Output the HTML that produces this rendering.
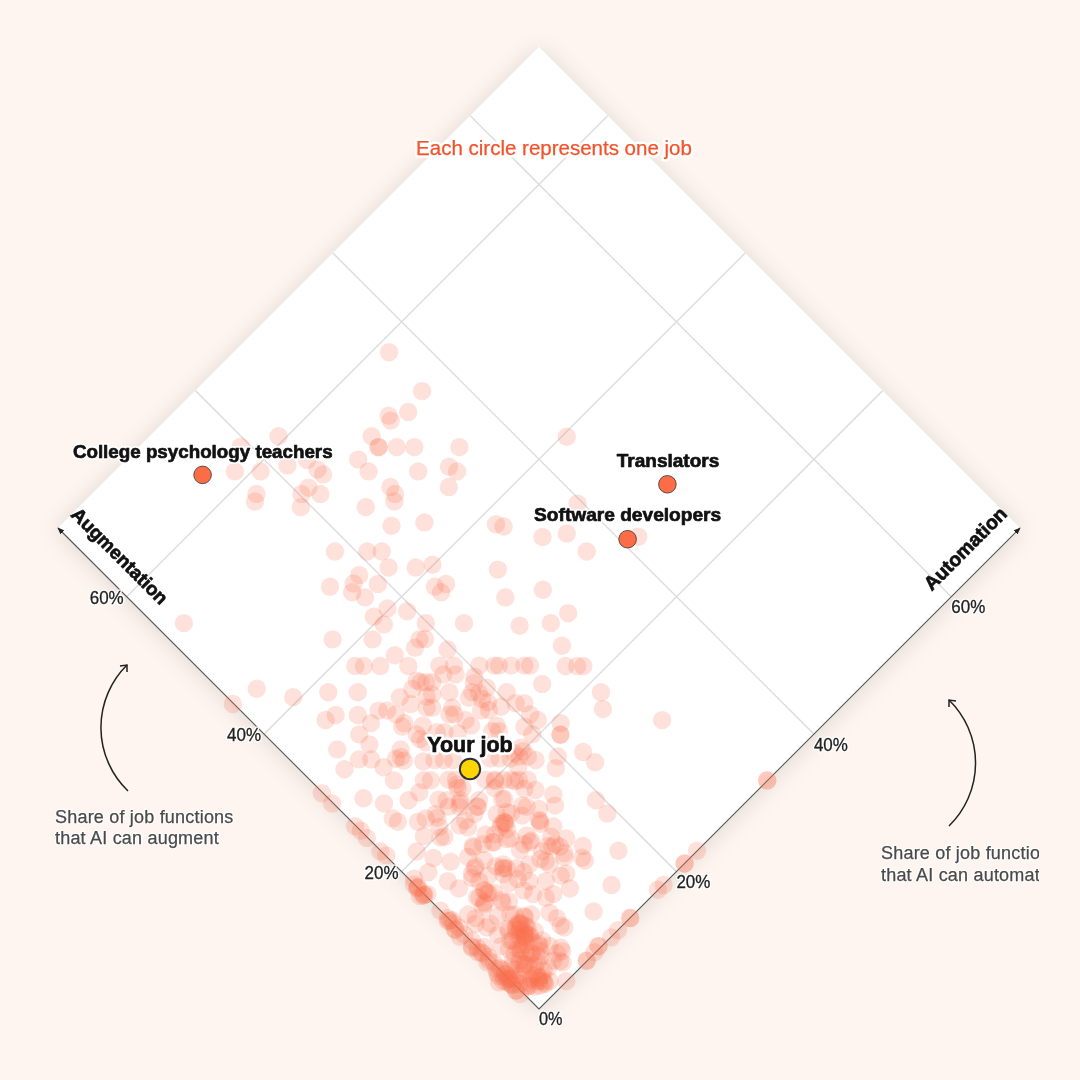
<!DOCTYPE html><html><head><meta charset="utf-8"><style>
html,body{margin:0;padding:0;background:#fef5f0;}
svg{display:block;will-change:transform;}
text{font-family:"Liberation Sans",sans-serif;}
</style></head><body>
<svg width="1080" height="1080" viewBox="0 0 1080 1080">
<defs>
<filter id="sh" x="-20%" y="-20%" width="140%" height="140%">
<feDropShadow dx="0" dy="2" stdDeviation="11" flood-color="#301a10" flood-opacity="0.13"/>
</filter>
<marker id="ah" viewBox="0 0 10 10" refX="9" refY="5" markerWidth="7" markerHeight="7" orient="auto-start-reverse" markerUnits="userSpaceOnUse"><path d="M0,1 L10,5 L0,9 z" fill="#222"/></marker>
<clipPath id="clipR"><rect x="0" y="0" width="1039" height="1080"/></clipPath>
</defs>
<rect width="1080" height="1080" fill="#fef5f0"/>

<polygon points="539.0,1009.0 58.00000000000006,528.0 539.0,47.00000000000006 1020.0,528.0" fill="#fff" filter="url(#sh)"/>
<line x1="401.6" y1="871.6" x2="882.6" y2="390.6" stroke="#dedede" stroke-width="1.5"/>
<line x1="676.4" y1="871.6" x2="195.4" y2="390.6" stroke="#dedede" stroke-width="1.5"/>
<line x1="264.1" y1="734.1" x2="745.1" y2="253.1" stroke="#dedede" stroke-width="1.5"/>
<line x1="813.9" y1="734.1" x2="332.9" y2="253.1" stroke="#dedede" stroke-width="1.5"/>
<line x1="126.7" y1="596.7" x2="607.7" y2="115.7" stroke="#dedede" stroke-width="1.5"/>
<line x1="951.3" y1="596.7" x2="470.3" y2="115.7" stroke="#dedede" stroke-width="1.5"/>
<polyline points="58.00000000000006,528.0 539.0,1009.0 1020.0,528.0" fill="none" stroke="#555" stroke-width="1.1" marker-start="url(#ah)" marker-end="url(#ah)"/>
<g fill="#f87050" fill-opacity="0.21">
<circle cx="389.0" cy="352.2" r="9.2"/>
<circle cx="422.1" cy="391.1" r="9.2"/>
<circle cx="408.2" cy="411.9" r="9.2"/>
<circle cx="388.6" cy="415.8" r="9.2"/>
<circle cx="390.7" cy="420.6" r="9.2"/>
<circle cx="371.7" cy="436.3" r="9.2"/>
<circle cx="378.6" cy="447.1" r="9.2"/>
<circle cx="396.7" cy="447.1" r="9.2"/>
<circle cx="414.3" cy="447.1" r="9.2"/>
<circle cx="459.4" cy="447.1" r="9.2"/>
<circle cx="358.2" cy="459.6" r="9.2"/>
<circle cx="368.6" cy="471.4" r="9.2"/>
<circle cx="418.2" cy="471.4" r="9.2"/>
<circle cx="449.0" cy="466.8" r="9.2"/>
<circle cx="457.1" cy="471.4" r="9.2"/>
<circle cx="278.6" cy="436.3" r="9.2"/>
<circle cx="240.7" cy="446.7" r="9.2"/>
<circle cx="234.9" cy="471.4" r="9.2"/>
<circle cx="260.6" cy="471.4" r="9.2"/>
<circle cx="287.4" cy="465.4" r="9.2"/>
<circle cx="307.1" cy="459.9" r="9.2"/>
<circle cx="317.5" cy="469.6" r="9.2"/>
<circle cx="323.1" cy="474.4" r="9.2"/>
<circle cx="566.8" cy="436.7" r="9.2"/>
<circle cx="256.4" cy="493.9" r="9.2"/>
<circle cx="255.0" cy="501.5" r="9.2"/>
<circle cx="301.5" cy="493.9" r="9.2"/>
<circle cx="300.8" cy="507.1" r="9.2"/>
<circle cx="308.5" cy="487.6" r="9.2"/>
<circle cx="320.3" cy="493.9" r="9.2"/>
<circle cx="183.9" cy="623.1" r="9.2"/>
<circle cx="390.4" cy="486.9" r="9.2"/>
<circle cx="395.0" cy="493.9" r="9.2"/>
<circle cx="394.3" cy="501.5" r="9.2"/>
<circle cx="448.8" cy="486.9" r="9.2"/>
<circle cx="365.8" cy="507.1" r="9.2"/>
<circle cx="391.5" cy="525.8" r="9.2"/>
<circle cx="424.4" cy="522.4" r="9.2"/>
<circle cx="334.9" cy="551.5" r="9.2"/>
<circle cx="367.2" cy="551.5" r="9.2"/>
<circle cx="381.7" cy="551.5" r="9.2"/>
<circle cx="388.6" cy="567.5" r="9.2"/>
<circle cx="415.7" cy="567.5" r="9.2"/>
<circle cx="432.5" cy="564.7" r="9.2"/>
<circle cx="359.2" cy="575.1" r="9.2"/>
<circle cx="353.6" cy="583.5" r="9.2"/>
<circle cx="352.2" cy="592.2" r="9.2"/>
<circle cx="365.0" cy="597.4" r="9.2"/>
<circle cx="377.9" cy="583.9" r="9.2"/>
<circle cx="330.0" cy="586.7" r="9.2"/>
<circle cx="434.9" cy="586.7" r="9.2"/>
<circle cx="446.0" cy="583.9" r="9.2"/>
<circle cx="441.1" cy="592.2" r="9.2"/>
<circle cx="387.4" cy="608.5" r="9.2"/>
<circle cx="373.8" cy="616.8" r="9.2"/>
<circle cx="383.9" cy="624.4" r="9.2"/>
<circle cx="407.1" cy="611.2" r="9.2"/>
<circle cx="425.8" cy="623.1" r="9.2"/>
<circle cx="464.0" cy="623.1" r="9.2"/>
<circle cx="577.6" cy="503.6" r="9.2"/>
<circle cx="496.0" cy="524.2" r="9.2"/>
<circle cx="503.6" cy="526.5" r="9.2"/>
<circle cx="542.5" cy="536.9" r="9.2"/>
<circle cx="566.8" cy="533.5" r="9.2"/>
<circle cx="586.7" cy="551.5" r="9.2"/>
<circle cx="497.8" cy="569.6" r="9.2"/>
<circle cx="542.9" cy="589.7" r="9.2"/>
<circle cx="505.3" cy="597.4" r="9.2"/>
<circle cx="568.2" cy="613.1" r="9.2"/>
<circle cx="550.8" cy="623.1" r="9.2"/>
<circle cx="519.6" cy="625.8" r="9.2"/>
<circle cx="638.3" cy="536.7" r="9.2"/>
<circle cx="256.8" cy="688.8" r="9.2"/>
<circle cx="232.8" cy="704.0" r="9.2"/>
<circle cx="293.2" cy="697.1" r="9.2"/>
<circle cx="332.6" cy="639.4" r="9.2"/>
<circle cx="372.6" cy="639.4" r="9.2"/>
<circle cx="394.8" cy="655.3" r="9.2"/>
<circle cx="419.4" cy="639.4" r="9.2"/>
<circle cx="425" cy="638.9" r="9.2"/>
<circle cx="415" cy="647.8" r="9.2"/>
<circle cx="355.3" cy="665.9" r="9.2"/>
<circle cx="363.9" cy="665.9" r="9.2"/>
<circle cx="380.3" cy="665.9" r="9.2"/>
<circle cx="408.3" cy="665.9" r="9.2"/>
<circle cx="328.3" cy="692.2" r="9.2"/>
<circle cx="357.8" cy="692.2" r="9.2"/>
<circle cx="416.7" cy="680.6" r="9.2"/>
<circle cx="420.6" cy="682.2" r="9.2"/>
<circle cx="426.1" cy="682.2" r="9.2"/>
<circle cx="412.2" cy="688.9" r="9.2"/>
<circle cx="399.8" cy="697.2" r="9.2"/>
<circle cx="410.6" cy="703.9" r="9.2"/>
<circle cx="426.7" cy="696.7" r="9.2"/>
<circle cx="426.7" cy="707.8" r="9.2"/>
<circle cx="325.6" cy="720" r="9.2"/>
<circle cx="335.6" cy="715" r="9.2"/>
<circle cx="357.8" cy="715" r="9.2"/>
<circle cx="370.9" cy="723.1" r="9.2"/>
<circle cx="378.7" cy="710.6" r="9.2"/>
<circle cx="387.2" cy="710.6" r="9.2"/>
<circle cx="396.1" cy="714.4" r="9.2"/>
<circle cx="404.4" cy="723.3" r="9.2"/>
<circle cx="402.2" cy="726.7" r="9.2"/>
<circle cx="422.8" cy="725.6" r="9.2"/>
<circle cx="416.7" cy="734.4" r="9.2"/>
<circle cx="420" cy="738.9" r="9.2"/>
<circle cx="425.6" cy="742.2" r="9.2"/>
<circle cx="359.2" cy="734.4" r="9.2"/>
<circle cx="369.4" cy="744.4" r="9.2"/>
<circle cx="337.2" cy="749.4" r="9.2"/>
<circle cx="400.6" cy="749.4" r="9.2"/>
<circle cx="447.6" cy="649.4" r="9.2"/>
<circle cx="439.4" cy="665.6" r="9.2"/>
<circle cx="453.9" cy="665.6" r="9.2"/>
<circle cx="443.3" cy="674.4" r="9.2"/>
<circle cx="455.6" cy="674.4" r="9.2"/>
<circle cx="479.4" cy="665.6" r="9.2"/>
<circle cx="494.4" cy="665.6" r="9.2"/>
<circle cx="498.9" cy="665.6" r="9.2"/>
<circle cx="511.1" cy="665.6" r="9.2"/>
<circle cx="524.4" cy="665.6" r="9.2"/>
<circle cx="530" cy="665.6" r="9.2"/>
<circle cx="542.2" cy="683.9" r="9.2"/>
<circle cx="474.4" cy="676.7" r="9.2"/>
<circle cx="473.9" cy="683.3" r="9.2"/>
<circle cx="486.7" cy="687.8" r="9.2"/>
<circle cx="472.2" cy="692.2" r="9.2"/>
<circle cx="478.9" cy="693.3" r="9.2"/>
<circle cx="468.9" cy="697.8" r="9.2"/>
<circle cx="482.2" cy="698.9" r="9.2"/>
<circle cx="487.8" cy="702.2" r="9.2"/>
<circle cx="506.7" cy="692.2" r="9.2"/>
<circle cx="501.1" cy="706.7" r="9.2"/>
<circle cx="432.2" cy="682.2" r="9.2"/>
<circle cx="432.2" cy="694.4" r="9.2"/>
<circle cx="449.4" cy="692.2" r="9.2"/>
<circle cx="432.2" cy="707.8" r="9.2"/>
<circle cx="452.2" cy="707.8" r="9.2"/>
<circle cx="449.4" cy="714.4" r="9.2"/>
<circle cx="454.4" cy="714.4" r="9.2"/>
<circle cx="465.6" cy="720" r="9.2"/>
<circle cx="481.1" cy="710.6" r="9.2"/>
<circle cx="488.9" cy="710" r="9.2"/>
<circle cx="515.6" cy="703.3" r="9.2"/>
<circle cx="524.4" cy="703.3" r="9.2"/>
<circle cx="530" cy="714.4" r="9.2"/>
<circle cx="537.8" cy="720" r="9.2"/>
<circle cx="524.4" cy="726.7" r="9.2"/>
<circle cx="532.2" cy="734.4" r="9.2"/>
<circle cx="496.7" cy="725.6" r="9.2"/>
<circle cx="492.2" cy="731.1" r="9.2"/>
<circle cx="498.9" cy="731.1" r="9.2"/>
<circle cx="471.1" cy="725.6" r="9.2"/>
<circle cx="436.7" cy="732.2" r="9.2"/>
<circle cx="444.4" cy="732.2" r="9.2"/>
<circle cx="457.8" cy="733.3" r="9.2"/>
<circle cx="521.1" cy="747.8" r="9.2"/>
<circle cx="561.9" cy="645.8" r="9.2"/>
<circle cx="565.6" cy="666.0" r="9.2"/>
<circle cx="577.2" cy="666.0" r="9.2"/>
<circle cx="583.4" cy="666.0" r="9.2"/>
<circle cx="601.0" cy="692.2" r="9.2"/>
<circle cx="602.9" cy="709.1" r="9.2"/>
<circle cx="662.1" cy="720.1" r="9.2"/>
<circle cx="560.6" cy="723.1" r="9.2"/>
<circle cx="560.4" cy="734.7" r="9.2"/>
<circle cx="583.1" cy="751.9" r="9.2"/>
<circle cx="595.1" cy="762.2" r="9.2"/>
<circle cx="557.8" cy="756.4" r="9.2"/>
<circle cx="555.8" cy="768.1" r="9.2"/>
<circle cx="767.2" cy="780.4" r="9.2"/>
<circle cx="595.9" cy="800.3" r="9.2"/>
<circle cx="607.2" cy="813.5" r="9.2"/>
<circle cx="582.9" cy="846.0" r="9.2"/>
<circle cx="618.5" cy="850.8" r="9.2"/>
<circle cx="584.9" cy="860.6" r="9.2"/>
<circle cx="697.0" cy="850.8" r="9.2"/>
<circle cx="684.6" cy="863.5" r="9.2"/>
<circle cx="663.6" cy="884.9" r="9.2"/>
<circle cx="657.8" cy="889.7" r="9.2"/>
<circle cx="611.5" cy="884.9" r="9.2"/>
<circle cx="593.6" cy="911.5" r="9.2"/>
<circle cx="630.2" cy="917.9" r="9.2"/>
<circle cx="617.9" cy="930.2" r="9.2"/>
<circle cx="611.1" cy="937.4" r="9.2"/>
<circle cx="598.5" cy="946.1" r="9.2"/>
<circle cx="359.0" cy="759.4" r="9.2"/>
<circle cx="371.3" cy="759.4" r="9.2"/>
<circle cx="344.5" cy="769.2" r="9.2"/>
<circle cx="383.6" cy="767.2" r="9.2"/>
<circle cx="401.1" cy="756.9" r="9.2"/>
<circle cx="403.7" cy="760.7" r="9.2"/>
<circle cx="395.9" cy="758.8" r="9.2"/>
<circle cx="394.0" cy="780.4" r="9.2"/>
<circle cx="423.2" cy="761.4" r="9.2"/>
<circle cx="423.8" cy="780.2" r="9.2"/>
<circle cx="430.9" cy="780.2" r="9.2"/>
<circle cx="419.3" cy="792.5" r="9.2"/>
<circle cx="408.6" cy="800.3" r="9.2"/>
<circle cx="438.7" cy="799.6" r="9.2"/>
<circle cx="321.8" cy="793.2" r="9.2"/>
<circle cx="332.1" cy="803.5" r="9.2"/>
<circle cx="363.5" cy="798.3" r="9.2"/>
<circle cx="384.0" cy="803.5" r="9.2"/>
<circle cx="392.7" cy="818.4" r="9.2"/>
<circle cx="397.9" cy="821.7" r="9.2"/>
<circle cx="418.0" cy="821.7" r="9.2"/>
<circle cx="425.7" cy="818.4" r="9.2"/>
<circle cx="437.4" cy="817.8" r="9.2"/>
<circle cx="355.1" cy="826.2" r="9.2"/>
<circle cx="360.9" cy="830.7" r="9.2"/>
<circle cx="366.8" cy="837.9" r="9.2"/>
<circle cx="380.4" cy="851.5" r="9.2"/>
<circle cx="386.2" cy="855.4" r="9.2"/>
<circle cx="423.8" cy="835.9" r="9.2"/>
<circle cx="416.7" cy="851.5" r="9.2"/>
<circle cx="433.5" cy="858.0" r="9.2"/>
<circle cx="428.3" cy="872.2" r="9.2"/>
<circle cx="414.1" cy="878.7" r="9.2"/>
<circle cx="440.4" cy="837.6" r="9.2"/>
<circle cx="459.8" cy="825.6" r="9.2"/>
<circle cx="468.1" cy="827.4" r="9.2"/>
<circle cx="501.5" cy="823.7" r="9.2"/>
<circle cx="507.0" cy="829.3" r="9.2"/>
<circle cx="510.7" cy="838.5" r="9.2"/>
<circle cx="540.4" cy="823.7" r="9.2"/>
<circle cx="553.3" cy="826.5" r="9.2"/>
<circle cx="472.8" cy="845.9" r="9.2"/>
<circle cx="483.0" cy="844.1" r="9.2"/>
<circle cx="494.1" cy="842.2" r="9.2"/>
<circle cx="523.7" cy="844.1" r="9.2"/>
<circle cx="531.1" cy="840.4" r="9.2"/>
<circle cx="547.8" cy="845.9" r="9.2"/>
<circle cx="555.2" cy="844.1" r="9.2"/>
<circle cx="566.3" cy="838.5" r="9.2"/>
<circle cx="450.6" cy="861.7" r="9.2"/>
<circle cx="468.1" cy="857.0" r="9.2"/>
<circle cx="475.6" cy="866.3" r="9.2"/>
<circle cx="495.9" cy="866.3" r="9.2"/>
<circle cx="503.3" cy="864.4" r="9.2"/>
<circle cx="516.3" cy="868.1" r="9.2"/>
<circle cx="529.3" cy="864.4" r="9.2"/>
<circle cx="540.4" cy="858.9" r="9.2"/>
<circle cx="549.6" cy="864.4" r="9.2"/>
<circle cx="564.4" cy="857.0" r="9.2"/>
<circle cx="566.3" cy="873.7" r="9.2"/>
<circle cx="447.8" cy="881.1" r="9.2"/>
<circle cx="458.9" cy="888.5" r="9.2"/>
<circle cx="471.9" cy="873.7" r="9.2"/>
<circle cx="479.3" cy="881.1" r="9.2"/>
<circle cx="488.5" cy="875.6" r="9.2"/>
<circle cx="508.9" cy="883.0" r="9.2"/>
<circle cx="523.7" cy="871.9" r="9.2"/>
<circle cx="529.3" cy="881.1" r="9.2"/>
<circle cx="545.9" cy="881.1" r="9.2"/>
<circle cx="560.7" cy="875.6" r="9.2"/>
<circle cx="570.0" cy="888.5" r="9.2"/>
<circle cx="423.7" cy="894.1" r="9.2"/>
<circle cx="479.3" cy="897.8" r="9.2"/>
<circle cx="484.8" cy="890.4" r="9.2"/>
<circle cx="483.0" cy="907.0" r="9.2"/>
<circle cx="501.5" cy="899.6" r="9.2"/>
<circle cx="508.9" cy="901.5" r="9.2"/>
<circle cx="523.7" cy="890.4" r="9.2"/>
<circle cx="533.0" cy="894.1" r="9.2"/>
<circle cx="545.9" cy="897.8" r="9.2"/>
<circle cx="553.3" cy="894.1" r="9.2"/>
<circle cx="440.4" cy="910.7" r="9.2"/>
<circle cx="447.8" cy="918.1" r="9.2"/>
<circle cx="468.1" cy="914.4" r="9.2"/>
<circle cx="475.6" cy="918.1" r="9.2"/>
<circle cx="490.4" cy="923.7" r="9.2"/>
<circle cx="497.8" cy="916.3" r="9.2"/>
<circle cx="514.4" cy="914.4" r="9.2"/>
<circle cx="523.7" cy="916.3" r="9.2"/>
<circle cx="531.1" cy="914.4" r="9.2"/>
<circle cx="549.6" cy="912.6" r="9.2"/>
<circle cx="557.0" cy="918.1" r="9.2"/>
<circle cx="560.7" cy="925.6" r="9.2"/>
<circle cx="508.9" cy="931.1" r="9.2"/>
<circle cx="520.0" cy="923.7" r="9.2"/>
<circle cx="527.4" cy="927.4" r="9.2"/>
<circle cx="534.8" cy="931.1" r="9.2"/>
<circle cx="512.6" cy="940.4" r="9.2"/>
<circle cx="523.7" cy="938.5" r="9.2"/>
<circle cx="533.0" cy="942.2" r="9.2"/>
<circle cx="542.2" cy="940.4" r="9.2"/>
<circle cx="549.6" cy="945.9" r="9.2"/>
<circle cx="557.0" cy="953.3" r="9.2"/>
<circle cx="508.9" cy="949.6" r="9.2"/>
<circle cx="520.0" cy="949.6" r="9.2"/>
<circle cx="531.1" cy="953.3" r="9.2"/>
<circle cx="540.4" cy="957.0" r="9.2"/>
<circle cx="512.6" cy="960.7" r="9.2"/>
<circle cx="523.7" cy="964.4" r="9.2"/>
<circle cx="534.8" cy="966.3" r="9.2"/>
<circle cx="547.8" cy="968.1" r="9.2"/>
<circle cx="520.0" cy="975.6" r="9.2"/>
<circle cx="531.1" cy="979.3" r="9.2"/>
<circle cx="538.5" cy="981.1" r="9.2"/>
<circle cx="534.8" cy="986.7" r="9.2"/>
<circle cx="527.4" cy="986.7" r="9.2"/>
<circle cx="542.2" cy="975.6" r="9.2"/>
<circle cx="562.6" cy="962.6" r="9.2"/>
<circle cx="560.7" cy="947.8" r="9.2"/>
<circle cx="420" cy="895.9" r="9.2"/>
<circle cx="427.4" cy="894.1" r="9.2"/>
<circle cx="453.3" cy="923.7" r="9.2"/>
<circle cx="458.9" cy="927.4" r="9.2"/>
<circle cx="464.4" cy="934.8" r="9.2"/>
<circle cx="471.9" cy="940.4" r="9.2"/>
<circle cx="477.4" cy="947.8" r="9.2"/>
<circle cx="483.0" cy="953.3" r="9.2"/>
<circle cx="488.5" cy="957.0" r="9.2"/>
<circle cx="494.1" cy="962.6" r="9.2"/>
<circle cx="499.6" cy="968.1" r="9.2"/>
<circle cx="505.2" cy="973.7" r="9.2"/>
<circle cx="508.9" cy="979.3" r="9.2"/>
<circle cx="512.6" cy="984.8" r="9.2"/>
<circle cx="516.3" cy="990.4" r="9.2"/>
<circle cx="520.0" cy="994.1" r="9.2"/>
<circle cx="503.3" cy="981.1" r="9.2"/>
<circle cx="471.9" cy="947.8" r="9.2"/>
<circle cx="475.6" cy="923.7" r="9.2"/>
<circle cx="486.7" cy="927.4" r="9.2"/>
<circle cx="497.8" cy="934.8" r="9.2"/>
<circle cx="501.5" cy="945.9" r="9.2"/>
<circle cx="564.4" cy="927.4" r="9.2"/>
<circle cx="566.3" cy="981.1" r="9.2"/>
<circle cx="549.6" cy="981.1" r="9.2"/>
<circle cx="553.3" cy="960.7" r="9.2"/>
<circle cx="586.7" cy="960.7" r="9.2"/>
<circle cx="519.4" cy="756.7" r="9.2"/>
<circle cx="514.4" cy="753.3" r="9.2"/>
<circle cx="523.3" cy="751.1" r="9.2"/>
<circle cx="535.6" cy="760" r="9.2"/>
<circle cx="527.8" cy="756.7" r="9.2"/>
<circle cx="518.3" cy="766.7" r="9.2"/>
<circle cx="503.3" cy="780" r="9.2"/>
<circle cx="511.1" cy="780" r="9.2"/>
<circle cx="518.9" cy="780" r="9.2"/>
<circle cx="527.8" cy="780" r="9.2"/>
<circle cx="535.6" cy="790" r="9.2"/>
<circle cx="524.4" cy="788.9" r="9.2"/>
<circle cx="553.3" cy="794.4" r="9.2"/>
<circle cx="555" cy="805.6" r="9.2"/>
<circle cx="504.4" cy="798.9" r="9.2"/>
<circle cx="522.2" cy="805.6" r="9.2"/>
<circle cx="526.7" cy="806.7" r="9.2"/>
<circle cx="538.9" cy="808.9" r="9.2"/>
<circle cx="506.7" cy="812.2" r="9.2"/>
<circle cx="504.4" cy="822.2" r="9.2"/>
<circle cx="511.1" cy="813.3" r="9.2"/>
<circle cx="522.2" cy="815.6" r="9.2"/>
<circle cx="538.9" cy="820" r="9.2"/>
<circle cx="526.7" cy="835.6" r="9.2"/>
<circle cx="551.1" cy="836.7" r="9.2"/>
<circle cx="552.2" cy="846.7" r="9.2"/>
<circle cx="560" cy="846.7" r="9.2"/>
<circle cx="564.4" cy="853.3" r="9.2"/>
<circle cx="520" cy="850" r="9.2"/>
<circle cx="542.2" cy="851.1" r="9.2"/>
<circle cx="582.2" cy="857.8" r="9.2"/>
<circle cx="434.6" cy="760" r="9.2"/>
<circle cx="443.9" cy="760" r="9.2"/>
<circle cx="453.1" cy="760" r="9.2"/>
<circle cx="490.2" cy="758.5" r="9.2"/>
<circle cx="499.4" cy="758.5" r="9.2"/>
<circle cx="510.6" cy="758.5" r="9.2"/>
<circle cx="448.5" cy="779.8" r="9.2"/>
<circle cx="455.9" cy="779.8" r="9.2"/>
<circle cx="485.6" cy="779.8" r="9.2"/>
<circle cx="494.8" cy="779.8" r="9.2"/>
<circle cx="457.8" cy="788" r="9.2"/>
<circle cx="462.4" cy="788" r="9.2"/>
<circle cx="494.8" cy="788" r="9.2"/>
<circle cx="446.7" cy="800.2" r="9.2"/>
<circle cx="460.6" cy="800.2" r="9.2"/>
<circle cx="479.1" cy="800.2" r="9.2"/>
<circle cx="448.5" cy="806.7" r="9.2"/>
<circle cx="459.6" cy="806.7" r="9.2"/>
<circle cx="477.2" cy="806.7" r="9.2"/>
<circle cx="435.6" cy="814" r="9.2"/>
<circle cx="474.4" cy="814" r="9.2"/>
<circle cx="496.7" cy="814" r="9.2"/>
<circle cx="465.2" cy="820.6" r="9.2"/>
<circle cx="439.3" cy="827" r="9.2"/>
<circle cx="500.4" cy="827" r="9.2"/>
<circle cx="485.6" cy="834.4" r="9.2"/>
<circle cx="494.8" cy="834.4" r="9.2"/>
<circle cx="413.9" cy="884.4" r="9.2"/>
<circle cx="417.8" cy="886.7" r="9.2"/>
<circle cx="447.8" cy="921.1" r="9.2"/>
<circle cx="455.6" cy="930" r="9.2"/>
<circle cx="460" cy="936.7" r="9.2"/>
<circle cx="594.4" cy="952.2" r="9.2"/>
<circle cx="562.2" cy="951.1" r="9.2"/>
<circle cx="560" cy="961.1" r="9.2"/>
<circle cx="543.3" cy="981.1" r="9.2"/>
<circle cx="520.2" cy="937.1" r="9.2"/>
<circle cx="520.4" cy="928.8" r="9.2"/>
<circle cx="515.5" cy="929.9" r="9.2"/>
<circle cx="529.8" cy="936.2" r="9.2"/>
<circle cx="529.3" cy="934.5" r="9.2"/>
<circle cx="524.8" cy="933.9" r="9.2"/>
<circle cx="510.3" cy="940.6" r="9.2"/>
<circle cx="525.5" cy="937.0" r="9.2"/>
<circle cx="510.2" cy="914.6" r="9.2"/>
<circle cx="515.8" cy="927.3" r="9.2"/>
<circle cx="524.1" cy="931.5" r="9.2"/>
<circle cx="525.6" cy="925.6" r="9.2"/>
<circle cx="524.2" cy="935.9" r="9.2"/>
<circle cx="517.4" cy="949.2" r="9.2"/>
<circle cx="525.9" cy="944.0" r="9.2"/>
<circle cx="517.7" cy="924.6" r="9.2"/>
<circle cx="519.6" cy="930.9" r="9.2"/>
<circle cx="526.4" cy="934.5" r="9.2"/>
<circle cx="518.9" cy="922.4" r="9.2"/>
<circle cx="518.4" cy="944.2" r="9.2"/>
<circle cx="516.3" cy="934.4" r="9.2"/>
<circle cx="525.0" cy="917.1" r="9.2"/>
<circle cx="522.3" cy="945.1" r="9.2"/>
<circle cx="507.9" cy="928.8" r="9.2"/>
<circle cx="521.3" cy="923.8" r="9.2"/>
<circle cx="539.0" cy="980.7" r="9.2"/>
<circle cx="527.2" cy="985.1" r="9.2"/>
<circle cx="540.0" cy="985.7" r="9.2"/>
<circle cx="544.6" cy="982.8" r="9.2"/>
<circle cx="536.7" cy="974.5" r="9.2"/>
<circle cx="539.7" cy="977.9" r="9.2"/>
<circle cx="533.3" cy="974.7" r="9.2"/>
<circle cx="530.2" cy="978.3" r="9.2"/>
<circle cx="543.7" cy="970.8" r="9.2"/>
<circle cx="527.3" cy="982.2" r="9.2"/>
<circle cx="544.7" cy="983.9" r="9.2"/>
<circle cx="524.6" cy="968.4" r="9.2"/>
<circle cx="538.1" cy="977.3" r="9.2"/>
<circle cx="529.3" cy="985.9" r="9.2"/>
<circle cx="512.5" cy="976.8" r="9.2"/>
<circle cx="508.2" cy="978.2" r="9.2"/>
<circle cx="515.0" cy="979.1" r="9.2"/>
<circle cx="509.6" cy="978.7" r="9.2"/>
<circle cx="499.2" cy="982.4" r="9.2"/>
<circle cx="511.8" cy="978.6" r="9.2"/>
<circle cx="497.1" cy="972.8" r="9.2"/>
<circle cx="511.2" cy="966.9" r="9.2"/>
<circle cx="525.3" cy="964.2" r="9.2"/>
<circle cx="515.2" cy="969.5" r="9.2"/>
<circle cx="532.0" cy="953.6" r="9.2"/>
<circle cx="529.9" cy="960.8" r="9.2"/>
<circle cx="528.1" cy="965.3" r="9.2"/>
<circle cx="521.0" cy="951.3" r="9.2"/>
<circle cx="536.4" cy="955.2" r="9.2"/>
<circle cx="519.1" cy="963.5" r="9.2"/>
<circle cx="540.2" cy="951.0" r="9.2"/>
<circle cx="514.6" cy="953.8" r="9.2"/>
<circle cx="525.7" cy="952.3" r="9.2"/>
<circle cx="539.6" cy="945.8" r="9.2"/>
<circle cx="538.3" cy="943.6" r="9.2"/>
<circle cx="519.9" cy="960.7" r="9.2"/>
<circle cx="537.2" cy="962.7" r="9.2"/>
<circle cx="417.6" cy="887.5" r="9.2"/>
<circle cx="417.2" cy="888.4" r="9.2"/>
<circle cx="422.9" cy="895.6" r="9.2"/>
<circle cx="424.4" cy="895.0" r="9.2"/>
<circle cx="449.5" cy="920.7" r="9.2"/>
<circle cx="452.0" cy="920.2" r="9.2"/>
<circle cx="454.8" cy="929.3" r="9.2"/>
<circle cx="471.9" cy="946.4" r="9.2"/>
<circle cx="484.1" cy="946.9" r="9.2"/>
<circle cx="478.2" cy="952.5" r="9.2"/>
<circle cx="481.2" cy="952.5" r="9.2"/>
<circle cx="487.3" cy="962.4" r="9.2"/>
<circle cx="488.8" cy="960.1" r="9.2"/>
<circle cx="502.1" cy="969.6" r="9.2"/>
<circle cx="496.1" cy="968.7" r="9.2"/>
<circle cx="503.2" cy="976.6" r="9.2"/>
<circle cx="498.2" cy="975.7" r="9.2"/>
<circle cx="505.7" cy="974.4" r="9.2"/>
<circle cx="510.1" cy="983.8" r="9.2"/>
<circle cx="511.9" cy="984.9" r="9.2"/>
<circle cx="506.8" cy="981.2" r="9.2"/>
<circle cx="516.0" cy="990.8" r="9.2"/>
<circle cx="518.9" cy="984.2" r="9.2"/>
<circle cx="488.7" cy="893.1" r="9.2"/>
<circle cx="487.0" cy="892.9" r="9.2"/>
<circle cx="485.0" cy="903.7" r="9.2"/>
<circle cx="503.1" cy="868.6" r="9.2"/>
<circle cx="506.9" cy="868.4" r="9.2"/>
<circle cx="503.3" cy="873.9" r="9.2"/>
<circle cx="378.6" cy="447.1" r="9.2"/>
<circle cx="560.4" cy="734.7" r="9.2"/>
<circle cx="767.2" cy="780.4" r="9.2"/>
<circle cx="630.2" cy="917.9" r="9.2"/>
<circle cx="586.7" cy="960.7" r="9.2"/>
<circle cx="684.6" cy="863.5" r="9.2"/>
<circle cx="598.5" cy="946.1" r="9.2"/>
<circle cx="504.4" cy="822.2" r="9.2"/>
<circle cx="505.5" cy="823.5" r="9.2"/>
<circle cx="477.8" cy="806.7" r="9.2"/>
<circle cx="502.2" cy="798.9" r="9.2"/>
<circle cx="495" cy="781" r="9.2"/>
<circle cx="515" cy="781" r="9.2"/>
<circle cx="456.7" cy="784.4" r="9.2"/>
<circle cx="460" cy="803.3" r="9.2"/>
<circle cx="492.2" cy="842.2" r="9.2"/>
<circle cx="506.7" cy="838.9" r="9.2"/>
<circle cx="503.3" cy="867.8" r="9.2"/>
<circle cx="473.3" cy="847.8" r="9.2"/>
<circle cx="540" cy="821.1" r="9.2"/>
<circle cx="530" cy="842.2" r="9.2"/>
<circle cx="545.6" cy="861.1" r="9.2"/>
<circle cx="517.8" cy="878.9" r="9.2"/>
<circle cx="444.4" cy="836.7" r="9.2"/>
<circle cx="474.6" cy="868.5" r="9.2"/>
<circle cx="484.2" cy="860.1" r="9.2"/>
<circle cx="484.2" cy="890.2" r="9.2"/>
<circle cx="484.2" cy="902.2" r="9.2"/>
<circle cx="493.9" cy="892.6" r="9.2"/>
<circle cx="477.0" cy="897.4" r="9.2"/>
<circle cx="502.3" cy="902.2" r="9.2"/>
<circle cx="472.2" cy="878.1" r="9.2"/>
</g>
<text x="398.6" y="878.6" text-anchor="end" font-size="18" textLength="34" lengthAdjust="spacingAndGlyphs" fill="#fff" stroke="#fff" stroke-width="3" stroke-linejoin="round">20%</text>
<text x="398.6" y="878.6" text-anchor="end" font-size="18" textLength="34" lengthAdjust="spacingAndGlyphs" fill="#222" stroke="#222" stroke-width="0.3">20%</text>
<text x="676.4" y="888.1" font-size="18" textLength="34" lengthAdjust="spacingAndGlyphs" fill="#fff" stroke="#fff" stroke-width="3" stroke-linejoin="round">20%</text>
<text x="676.4" y="888.1" font-size="18" textLength="34" lengthAdjust="spacingAndGlyphs" fill="#222" stroke="#222" stroke-width="0.3">20%</text>
<text x="261.1" y="741.1" text-anchor="end" font-size="18" textLength="34" lengthAdjust="spacingAndGlyphs" fill="#fff" stroke="#fff" stroke-width="3" stroke-linejoin="round">40%</text>
<text x="261.1" y="741.1" text-anchor="end" font-size="18" textLength="34" lengthAdjust="spacingAndGlyphs" fill="#222" stroke="#222" stroke-width="0.3">40%</text>
<text x="813.9" y="750.6" font-size="18" textLength="34" lengthAdjust="spacingAndGlyphs" fill="#fff" stroke="#fff" stroke-width="3" stroke-linejoin="round">40%</text>
<text x="813.9" y="750.6" font-size="18" textLength="34" lengthAdjust="spacingAndGlyphs" fill="#222" stroke="#222" stroke-width="0.3">40%</text>
<text x="123.7" y="603.7" text-anchor="end" font-size="18" textLength="34" lengthAdjust="spacingAndGlyphs" fill="#fff" stroke="#fff" stroke-width="3" stroke-linejoin="round">60%</text>
<text x="123.7" y="603.7" text-anchor="end" font-size="18" textLength="34" lengthAdjust="spacingAndGlyphs" fill="#222" stroke="#222" stroke-width="0.3">60%</text>
<text x="951.3" y="613.2" font-size="18" textLength="34" lengthAdjust="spacingAndGlyphs" fill="#fff" stroke="#fff" stroke-width="3" stroke-linejoin="round">60%</text>
<text x="951.3" y="613.2" font-size="18" textLength="34" lengthAdjust="spacingAndGlyphs" fill="#222" stroke="#222" stroke-width="0.3">60%</text>
<text x="539.0" y="1024.5" font-size="18" textLength="23.5" lengthAdjust="spacingAndGlyphs" fill="#fff" stroke="#fff" stroke-width="3" stroke-linejoin="round">0%</text>
<text x="539.0" y="1024.5" font-size="18" textLength="23.5" lengthAdjust="spacingAndGlyphs" fill="#222" stroke="#222" stroke-width="0.3">0%</text>
<text transform="translate(70,515.5) rotate(45)" font-size="19" font-weight="700" fill="#111" stroke="#111" stroke-width="0.7">Augmentation</text>
<text transform="translate(931.7,591.6) rotate(-45)" font-size="19.5" font-weight="700" fill="#111" stroke="#111" stroke-width="0.7">Automation</text>
<text x="554" y="155" text-anchor="middle" font-size="20.5" fill="#fff" stroke="#fff" stroke-width="5" stroke-linejoin="round">Each circle represents one job</text>
<text x="554" y="155" text-anchor="middle" font-size="20.5" fill="#f4522a" stroke="#f4522a" stroke-width="0.25">Each circle represents one job</text>
<text x="72.9" y="457.9" font-size="19" font-weight="700" textLength="259.7" lengthAdjust="spacingAndGlyphs" fill="#fff" stroke="#fff" stroke-width="4" stroke-linejoin="round">College psychology teachers</text>
<text x="72.9" y="457.9" font-size="19" font-weight="700" textLength="259.7" lengthAdjust="spacingAndGlyphs" fill="#111" stroke="#111" stroke-width="0.7" stroke-linejoin="round">College psychology teachers</text>
<text x="616.8" y="466.8" font-size="19" font-weight="700" textLength="102.4" lengthAdjust="spacingAndGlyphs" fill="#fff" stroke="#fff" stroke-width="4" stroke-linejoin="round">Translators</text>
<text x="616.8" y="466.8" font-size="19" font-weight="700" textLength="102.4" lengthAdjust="spacingAndGlyphs" fill="#111" stroke="#111" stroke-width="0.7" stroke-linejoin="round">Translators</text>
<text x="534.1" y="521.2" font-size="19" font-weight="700" textLength="187.1" lengthAdjust="spacingAndGlyphs" fill="#fff" stroke="#fff" stroke-width="4" stroke-linejoin="round">Software developers</text>
<text x="534.1" y="521.2" font-size="19" font-weight="700" textLength="187.1" lengthAdjust="spacingAndGlyphs" fill="#111" stroke="#111" stroke-width="0.7" stroke-linejoin="round">Software developers</text>
<text x="427.3" y="752.0" font-size="22" font-weight="700" textLength="85.4" lengthAdjust="spacingAndGlyphs" fill="#fff" stroke="#fff" stroke-width="6" stroke-linejoin="round">Your job</text>
<text x="427.3" y="752.0" font-size="22" font-weight="700" textLength="85.4" lengthAdjust="spacingAndGlyphs" fill="#111" stroke="#111" stroke-width="0.7" stroke-linejoin="round">Your job</text>
<g stroke="#333" stroke-width="0.8" fill="#fc6d47">
<circle cx="202.6" cy="474.9" r="8.8"/><circle cx="667.4" cy="484.3" r="8.8"/><circle cx="627.6" cy="539.2" r="8.8"/>
</g>
<circle cx="470" cy="769" r="10.2" fill="#ffd400" stroke="#263040" stroke-width="2"/>
<path d="M128,791 A88,88 0 0 1 127,665" fill="none" stroke="#222" stroke-width="1.5"/>
<path d="M120,666 L127,665 L127,672" fill="none" stroke="#222" stroke-width="1.5"/>
<text font-size="18" fill="#fff" letter-spacing="0.2" stroke="#fff" stroke-width="2.5" stroke-linejoin="round"><tspan x="55" y="823">Share of job functions</tspan><tspan x="55" y="844">that AI can augment</tspan></text>
<text font-size="18" fill="#4a4a4a" letter-spacing="0.2" stroke="#4a4a4a" stroke-width="0.25"><tspan x="55" y="823">Share of job functions</tspan><tspan x="55" y="844">that AI can augment</tspan></text>
<path d="M949,826 A88,88 0 0 0 949,700" fill="none" stroke="#222" stroke-width="1.5"/>
<path d="M949,707 L949,700 L956,701" fill="none" stroke="#222" stroke-width="1.5"/>
<g clip-path="url(#clipR)"><text font-size="18" fill="#fff" letter-spacing="0.2" stroke="#fff" stroke-width="2.5" stroke-linejoin="round"><tspan x="881" y="859">Share of job functions</tspan><tspan x="881" y="881">that AI can automate</tspan></text>
<text font-size="18" fill="#4a4a4a" letter-spacing="0.2" stroke="#4a4a4a" stroke-width="0.25"><tspan x="881" y="859">Share of job functions</tspan><tspan x="881" y="881">that AI can automate</tspan></text></g>
</svg></body></html>
